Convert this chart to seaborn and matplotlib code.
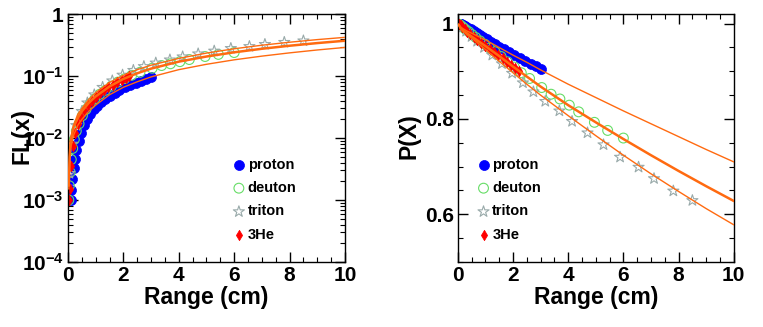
import numpy as np
import pandas as pd
import matplotlib
matplotlib.use("Agg")
import matplotlib.pyplot as plt
import matplotlib.ticker as mticker
import seaborn as sns

# --- data (FL = 1 - P) ---
proton_x = [0.10, 0.12, 0.16, 0.20, 0.25, 0.30, 0.38, 0.47, 0.57, 0.68, 0.80, 0.93, 1.06, 1.20,
            1.35, 1.51, 1.68, 1.86, 2.05, 2.25, 2.45, 2.65, 2.82, 3.00]
proton_fl = [0.0010, 0.00145, 0.0022, 0.0033, 0.0046, 0.0064, 0.0090, 0.012, 0.016, 0.020, 0.024,
             0.029, 0.033, 0.038, 0.043, 0.048, 0.054, 0.060, 0.066, 0.072, 0.078, 0.084, 0.089, 0.096]

deuton_x = [0.03, 0.05, 0.08, 0.12, 0.17, 0.23, 0.30, 0.40, 0.52, 0.65, 0.80, 0.97, 1.15, 1.35, 1.57,
            1.80, 2.05, 2.30, 2.60, 3.04, 3.38, 3.70, 4.04, 4.38, 4.95, 5.43, 6.00]
deuton_fl = [0.0010, 0.0017, 0.0028, 0.0045, 0.0068, 0.0095, 0.013, 0.017, 0.023, 0.029, 0.036, 0.043,
             0.051, 0.059, 0.069, 0.080, 0.091, 0.103, 0.115, 0.134, 0.148, 0.158, 0.171, 0.185,
             0.207, 0.224, 0.240]

triton_x = [0.05, 0.15, 0.30, 0.50, 0.70, 0.95, 1.25, 1.60, 1.97, 2.36, 2.74, 3.17, 3.68, 4.14, 4.70,
            5.28, 5.88, 6.55, 7.11, 7.81, 8.50]
triton_fl = [0.0027, 0.008, 0.016, 0.027, 0.037, 0.050, 0.066, 0.084, 0.104, 0.124, 0.143, 0.163,
             0.183, 0.205, 0.229, 0.254, 0.280, 0.301, 0.325, 0.351, 0.371]

he3_x = [0.03, 0.06, 0.10, 0.17, 0.25, 0.35, 0.46, 0.58, 0.71, 0.85, 1.00, 1.15, 1.30, 1.46, 1.62,
         1.78, 1.94, 2.08, 2.21]
he3_fl = [0.0010, 0.0015, 0.0035, 0.0075, 0.012, 0.017, 0.022, 0.028, 0.034, 0.040, 0.046, 0.053,
          0.060, 0.066, 0.073, 0.080, 0.087, 0.093, 0.099]

# fitted curves
fit_x = [0.03, 0.06, 0.10, 0.20, 0.35, 0.50, 0.75, 1.0, 1.5, 2.0, 2.5, 3.0, 4.0, 5.0, 6.0, 7.0, 8.0, 9.0, 10.0]
fit_proton = [0.0015, 0.004, 0.007, 0.011, 0.016, 0.020, 0.027, 0.034, 0.050, 0.066, 0.081, 0.097,
              0.127, 0.155, 0.183, 0.210, 0.237, 0.264, 0.290]
fit_deuton = [0.0017, 0.005, 0.009, 0.015, 0.021, 0.027, 0.037, 0.047, 0.068, 0.090, 0.111, 0.132,
              0.171, 0.207, 0.242, 0.276, 0.309, 0.341, 0.372]
fit_triton = [0.0019, 0.0055, 0.010, 0.016, 0.024, 0.030, 0.042, 0.054, 0.079, 0.103, 0.127, 0.150,
              0.193, 0.235, 0.276, 0.315, 0.352, 0.388, 0.422]

log_ticks = [1e-4, 1e-3, 1e-2, 1e-1, 1]
log_labels = [r"$\mathbf{10^{-4}}$", r"$\mathbf{10^{-3}}$", r"$\mathbf{10^{-2}}$", r"$\mathbf{10^{-1}}$", "1"]

sns.set_style("ticks")
plt.rcParams["font.family"] = ["Liberation Sans", "DejaVu Sans"]
plt.rcParams["font.weight"] = "bold"
plt.rcParams["mathtext.fontset"] = "custom"
plt.rcParams["mathtext.bf"] = "Liberation Sans:bold"
plt.rcParams["mathtext.rm"] = "Liberation Sans:bold"
for key in ["text.color", "axes.labelcolor", "xtick.color", "ytick.color", "axes.edgecolor"]:
    plt.rcParams[key] = "black"

ORANGE = "#ff6a10"
styles = {
    "proton": dict(marker="o", fc="#0000ff", ec="#0000ff", s=52, linewidth=0.5),
    "deuton": dict(marker="o", fc="none", ec="#66dd66", s=50, linewidth=0.8),
    "triton": dict(marker="*", fc="none", ec="#99aaaa", s=70, linewidth=0.8),
    "3He": dict(marker="d", fc="#ff0000", ec="#ff0000", s=28, linewidth=0.5),
}
points = {
    "proton": (proton_x, proton_fl),
    "deuton": (deuton_x, deuton_fl),
    "triton": (triton_x, triton_fl),
    "3He": (he3_x, he3_fl),
}
fits = [(fit_proton, 1.0), (fit_deuton, 1.8), (fit_triton, 1.0)]

fig = plt.figure(figsize=(7.63, 3.27), dpi=100)
ax1 = fig.add_axes([0.0891, 0.1988, 0.363, 0.758])
ax2 = fig.add_axes([0.600, 0.1988, 0.3617, 0.758])

for ax, right in [(ax1, False), (ax2, True)]:
    for fl, lw in fits:
        y = 1 - np.array(fl) if right else fl
        sns.lineplot(x=fit_x, y=y, ax=ax, color=ORANGE, lw=lw, sort=False, zorder=3)
    for name, (px, pfl) in points.items():
        y = 1 - np.array(pfl) if right else pfl
        sns.scatterplot(x=px, y=y, ax=ax, label=name, zorder=2, **styles[name])

    ax.set_xlim(0, 10)
    ax.xaxis.set_major_locator(mticker.MultipleLocator(2))
    ax.xaxis.set_minor_locator(mticker.MultipleLocator(0.5))
    ax.tick_params(which="both", direction="in", top=True, right=True, labelsize=15, pad=3)
    ax.tick_params(which="major", length=7, width=1)
    ax.tick_params(which="minor", length=3.5, width=0.8)
    for s in ax.spines.values():
        s.set_linewidth(1)
    ax.set_xlabel("Range (cm)", fontsize=16.5, fontweight="bold")
    ax.xaxis.set_label_coords(0.5, -0.095)
    ax.legend(loc="upper left", bbox_to_anchor=(0.567 if not right else 0.043, 0.445), frameon=False,
              fontsize=10.5, handletextpad=0.05, labelspacing=0.65, borderaxespad=0, handlelength=1.1)

ax1.set_yscale("log")
ax1.set_ylim(1e-4, 1)
ax1.set_yticks(log_ticks)
ax1.set_yticklabels(log_labels)
ax1.yaxis.set_minor_locator(mticker.LogLocator(base=10, subs=np.arange(2, 10)))
ax1.yaxis.set_minor_formatter(mticker.NullFormatter())
ax1.set_ylabel("FL(x)", fontsize=16.5, fontweight="bold")
ax1.yaxis.set_label_coords(-0.125, 0.51)

ax2.set_ylim(0.5, 1.02)
ax2.yaxis.set_major_locator(mticker.FixedLocator([0.6, 0.8, 1.0]))
ax2.yaxis.set_major_formatter(mticker.FixedFormatter(["0.6", "0.8", "1"]))
ax2.yaxis.set_minor_locator(mticker.MultipleLocator(0.05))
ax2.set_ylabel("P(X)", fontsize=16.5, fontweight="bold")
ax2.yaxis.set_label_coords(-0.134, 0.508)

for ax in (ax1, ax2):
    for lab in ax.get_xticklabels() + ax.get_yticklabels():
        lab.set_fontweight("bold")

fig.savefig("out.png", dpi=100)
